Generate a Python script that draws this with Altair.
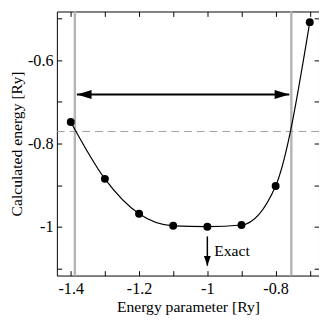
import altair as alt
import pandas as pd

# Data
param = [-1.4, -1.3, -1.2, -1.1, -1.0, -0.9, -0.8, -0.7]
energy = [-0.748, -0.885, -0.969, -0.998, -1.0, -0.996, -0.902, -0.508]
vlines = [-1.388, -0.754]
hline = [-0.771]
arrow_y = -0.682
arrow_x = [-1.382, -0.760]
exact_x = -1.0
exact_y = [-1.0235, -1.094]
exact_label = "Exact"
x_ticks = [-1.4, -1.3, -1.2, -1.1, -1.0, -0.9, -0.8, -0.7]
y_ticks = [-0.5, -0.6, -0.7, -0.8, -0.9, -1.0, -1.1]

W, H = 268, 270
FONT = "Liberation Serif"
xs = alt.Scale(domain=[-1.4406, -0.673], nice=False, zero=False)
ys = alt.Scale(domain=[-1.1176, -0.4824], nice=False, zero=False)

lab_expr = "abs(round(datum.value*10)) % 2 == 0 ? toString(round(datum.value*10)/10) : ''"

def tick_axis(orient, vals):
    return alt.Axis(orient=orient, offset=-(H if orient in ("top", "bottom") else W),
                    values=vals, labels=False, tickSize=5, tickColor="black",
                    tickWidth=1, domain=False, grid=False, title=None)

x_lab = alt.Axis(orient="bottom", values=x_ticks, labelExpr=lab_expr, tickSize=0,
                 domain=False, grid=False, title="Energy parameter [Ry]",
                 labelFont=FONT, labelFontSize=16.5, labelColor="black",
                 titleFont=FONT, titleFontSize=16, titleFontWeight="normal",
                 titleColor="black", labelPadding=5, titlePadding=2)
y_lab = alt.Axis(orient="left", values=y_ticks, labelExpr=lab_expr, tickSize=0,
                 domain=False, grid=False, title="Calculated energy [Ry]",
                 labelFont=FONT, labelFontSize=16.5, labelColor="black",
                 titleFont=FONT, titleFontSize=16, titleFontWeight="normal",
                 titleColor="black", labelPadding=4, titlePadding=3)

pts = pd.DataFrame({"x": param, "y": energy})

gray = alt.Chart(pd.DataFrame({"x": vlines})).mark_rule(
    color="#b5b5b5", strokeWidth=2.5).encode(
    x=alt.X("x:Q", scale=xs, axis=tick_axis("top", x_ticks)))

dashed = alt.Chart(pd.DataFrame({"y": hline})).mark_rule(
    color="#a0a0a0", strokeWidth=1, strokeDash=[8, 5]).encode(
    y=alt.Y("y:Q", scale=ys, axis=tick_axis("right", y_ticks)))

curve = alt.Chart(pts).mark_line(color="black", strokeWidth=1.2,
                                 interpolate="monotone").encode(
    x=alt.X("x:Q", scale=xs, axis=x_lab),
    y=alt.Y("y:Q", scale=ys, axis=y_lab))

dots = alt.Chart(pts).mark_point(filled=True, color="black", opacity=1,
                                 size=66).encode(
    x=alt.X("x:Q", scale=xs, axis=tick_axis("bottom", x_ticks)),
    y=alt.Y("y:Q", scale=ys, axis=tick_axis("left", y_ticks)))

arr = pd.DataFrame({"x": [arrow_x[0]], "x2": [arrow_x[1]], "y": [arrow_y]})
shaft = alt.Chart(arr).mark_rule(color="black", strokeWidth=2).encode(
    x=alt.X("x:Q", scale=xs, axis=None), x2="x2:Q",
    y=alt.Y("y:Q", scale=ys, axis=None))

heads = pd.DataFrame({"x": arrow_x, "y": [arrow_y, arrow_y],
                      "d": ["l", "r"]})
left_head = alt.Chart(heads[heads.d == "l"]).mark_point(
    shape="M0,0 L2,-0.6 L2,0.6 Z", filled=True, color="black", opacity=1,
    size=225).encode(x=alt.X("x:Q", scale=xs, axis=None),
                     y=alt.Y("y:Q", scale=ys, axis=None))
right_head = alt.Chart(heads[heads.d == "r"]).mark_point(
    shape="M0,0 L-2,-0.6 L-2,0.6 Z", filled=True, color="black", opacity=1,
    size=225).encode(x=alt.X("x:Q", scale=xs, axis=None),
                     y=alt.Y("y:Q", scale=ys, axis=None))

ex = pd.DataFrame({"x": [exact_x], "y": [exact_y[0]], "y2": [exact_y[1]]})
ex_shaft = alt.Chart(ex).mark_rule(color="black", strokeWidth=1.5).encode(
    x=alt.X("x:Q", scale=xs, axis=None),
    y=alt.Y("y:Q", scale=ys, axis=None), y2="y2:Q")
ex_head = alt.Chart(pd.DataFrame({"x": [exact_x], "y": [exact_y[1]]})).mark_point(
    shape="M0,0 L-0.7,-2 L0.7,-2 Z", filled=True, color="black", opacity=1,
    size=100).encode(x=alt.X("x:Q", scale=xs, axis=None),
                     y=alt.Y("y:Q", scale=ys, axis=None))
ex_text = alt.Chart(pd.DataFrame({"x": [exact_x], "y": [(exact_y[0] + exact_y[1]) / 2],
                                  "t": [exact_label]})).mark_text(
    align="left", baseline="middle", dx=7, font=FONT, fontSize=16,
    color="black").encode(x=alt.X("x:Q", scale=xs, axis=None),
                          y=alt.Y("y:Q", scale=ys, axis=None), text="t:N")

chart = alt.layer(gray, dashed, curve, dots, shaft, left_head, right_head,
                  ex_shaft, ex_head, ex_text).resolve_axis(
    x="independent", y="independent").properties(
    width=W, height=H,
    autosize=alt.AutoSizeParams(type="none"),
    padding={"left": 50, "top": 0, "right": 0, "bottom": 48},
    background="white").configure_view(stroke="black", strokeWidth=1)

chart.save("out.html", embed_options={"renderer": "svg", "actions": False})
